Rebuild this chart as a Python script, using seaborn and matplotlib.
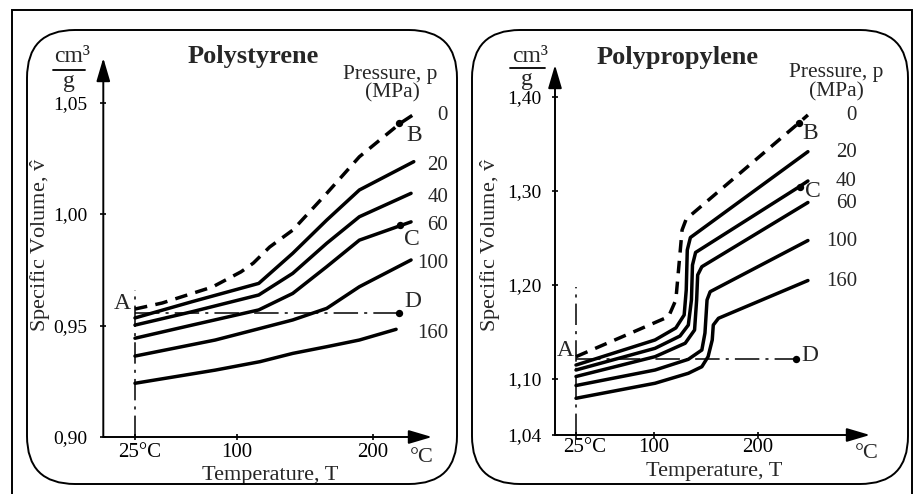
import matplotlib
matplotlib.use("Agg")
import numpy as np
import pandas as pd
import matplotlib.pyplot as plt
import matplotlib.patches as mpatches
import matplotlib.transforms as mtransforms
import seaborn as sns

# ---------------------------------------------------------------- data
pressures = [0, 20, 40, 60, 100, 160]          # MPa

# Polystyrene: temperature (deg C) and specific volume (cm3/g)
ps_T_0 = [25, 45, 82, 103, 112, 124, 141, 166, 190, 220, 233]
ps_v_0 = [0.9574, 0.9601, 0.9673, 0.9741, 0.9780, 0.9852, 0.9928, 1.0093, 1.0257, 1.0407, 1.0459]
ps_T_20 = [25, 67, 116, 141, 166, 190, 230]
ps_v_20 = [0.9534, 0.9607, 0.9689, 0.9824, 0.9973, 1.0108, 1.0235]
ps_T_40 = [25, 67, 116, 141, 166, 190, 228]
ps_v_40 = [0.9502, 0.9562, 0.9637, 0.9734, 0.9869, 0.9988, 1.0093]
ps_T_60 = [25, 67, 116, 141, 166, 190, 228]
ps_v_60 = [0.9443, 0.9502, 0.9570, 0.9644, 0.9764, 0.9883, 0.9965]
ps_T_100 = [25, 84, 117, 141, 166, 190, 228]
ps_v_100 = [0.9363, 0.9435, 0.9487, 0.9525, 0.9577, 0.9674, 0.9794]
ps_T_160 = [25, 84, 117, 141, 166, 190, 217]
ps_v_160 = [0.9241, 0.9300, 0.9338, 0.9375, 0.9405, 0.9435, 0.9483]

# Polypropylene
pp_T_0 = [25, 69, 114, 121, 124, 127, 131, 239, 248]
pp_v_0 = [1.1234, 1.1444, 1.1660, 1.1838, 1.2210, 1.2583, 1.2700, 1.3720, 1.3808]
pp_T_20 = [25, 101, 121, 129, 131, 132, 135, 248]
pp_v_20 = [1.1145, 1.1412, 1.1540, 1.1678, 1.1944, 1.2370, 1.2503, 1.3417]
pp_T_40 = [25, 101, 125, 133, 136, 137, 140, 240, 248]
pp_v_40 = [1.1092, 1.1323, 1.1454, 1.1571, 1.1838, 1.2210, 1.2344, 1.3046, 1.3105]
pp_T_60 = [25, 101, 130, 139, 141, 142, 146, 248]
pp_v_60 = [1.1023, 1.1234, 1.1377, 1.1518, 1.1838, 1.2104, 1.2192, 1.2876]
pp_T_100 = [25, 101, 133, 146, 149, 151, 154, 248]
pp_v_100 = [1.0927, 1.1092, 1.1206, 1.1305, 1.1486, 1.1838, 1.1926, 1.2471]
pp_T_160 = [25, 101, 133, 146, 152, 156, 157, 162, 248]
pp_v_160 = [1.0791, 1.0951, 1.1057, 1.1127, 1.1234, 1.1412, 1.1571, 1.1643, 1.2045]

# marked states
point_names = ["B", "C", "D"]
ps_point_T = [219, 220, 219]
ps_point_v = [1.0407, 0.9950, 0.9557]
pp_point_T = [239, 240, 237]
pp_point_v = [1.3720, 1.3046, 1.1206]
ps_A_T, ps_A_v = 25, 0.9557
pp_A_T, pp_A_v = 25, 1.1206
ps_vline_top = 0.966
pp_vline_top = 1.198

ps_yticks = [0.90, 0.95, 1.00, 1.05]
ps_yticklabels = ["0,90", "0,95", "1,00", "1,05"]
pp_yticks = [1.04, 1.10, 1.20, 1.30, 1.40]
pp_yticklabels = ["1,04", "1,10", "1,20", "1,30", "1,40"]
xticks = [25, 100, 200]
xticklabels = ["25°C", "100", "200"]

# ---------------------------------------------------------------- style
sns.set_theme(style="white")
plt.rcParams["font.family"] = ["Liberation Serif", "DejaVu Serif"]
plt.rcParams["mathtext.fontset"] = "custom"
plt.rcParams["mathtext.rm"] = "Liberation Serif"
plt.rcParams["mathtext.it"] = "Liberation Serif:italic"
plt.rcParams["mathtext.bf"] = "Liberation Serif:bold"

W, H = 915, 494
fig = plt.figure(figsize=(W / 100, H / 100), dpi=100)
fig.patch.set_facecolor("white")

PS_BOX = (103.3, 58, 432, 437)     # x0, ytop, x1, ybottom (pixels from top-left)
PP_BOX = (555, 65, 870, 435)


def rect(box):
    x0, yt, x1, yb = box
    return [x0 / W, 1 - yb / H, (x1 - x0) / W, (yb - yt) / H]


def ax_xy(box, x, y):
    x0, yt, x1, yb = box
    return (x - x0) / (x1 - x0), (yb - y) / (yb - yt)


def fig_xy(x, y):
    return x / W, 1 - y / H


ax1 = fig.add_axes(rect(PS_BOX))
ax2 = fig.add_axes(rect(PP_BOX))
ax1.set_xlim(1.7, 243.4)
ax1.set_ylim(0.90, 1.070)
ax2.set_xlim(4.8, 307.7)
ax2.set_ylim(1.04, 1.434)

ps_T = [ps_T_0, ps_T_20, ps_T_40, ps_T_60, ps_T_100, ps_T_160]
ps_v = [ps_v_0, ps_v_20, ps_v_40, ps_v_60, ps_v_100, ps_v_160]
pp_T = [pp_T_0, pp_T_20, pp_T_40, pp_T_60, pp_T_100, pp_T_160]
pp_v = [pp_v_0, pp_v_20, pp_v_40, pp_v_60, pp_v_100, pp_v_160]

palette = {p: "black" for p in pressures}
dashes = {p: ((3.6, 2.4) if p == 0 else "") for p in pressures}


def draw_panel(ax, box, Ts, vs, yticks, yticklabels, pT, pv, A_T, A_v, vtop,
               title, title_px, lab_x_px, lab_dy, point_offsets, A_offset,
               deg_off, xlab_px, ylab_px, pad_y, pad_x, lbl25_dx):
    df = pd.concat([pd.DataFrame({"T": t, "v": v, "p": p})
                    for p, t, v in zip(pressures, Ts, vs)], ignore_index=True)
    sns.lineplot(data=df, x="T", y="v", hue="p", style="p", palette=palette,
                 dashes=dashes, linewidth=2.5, legend=False, estimator=None,
                 sort=False, ax=ax)
    for s in ax.spines.values():
        s.set_visible(False)
    ax.set_xlabel("")
    ax.set_ylabel("")

    # axis arrows
    arrow = dict(arrowstyle="-|>,head_length=0.95,head_width=0.28", color="black",
                 lw=1.4, shrinkA=0, shrinkB=0, mutation_scale=15)
    ax.annotate("", xy=(1, 0), xytext=(0, 0), xycoords="axes fraction",
                textcoords="axes fraction", arrowprops=arrow)
    ax.annotate("", xy=(0, 1), xytext=(0, 0), xycoords="axes fraction",
                textcoords="axes fraction", arrowprops=arrow)

    # ticks
    ax.set_yticks(yticks)
    ax.set_yticklabels(yticklabels)
    ax.set_xticks(xticks)
    ax.set_xticklabels(xticklabels)
    ax.tick_params(axis="both", which="major", bottom=True, left=True,
                   direction="inout", length=5, width=1.2, color="black",
                   labelcolor="black")
    ax.tick_params(axis="y", labelsize=14, pad=pad_y)
    ax.tick_params(axis="x", labelsize=15, pad=pad_x)
    lab25 = ax.get_xticklabels()[0]
    lab25.set_transform(lab25.get_transform() +
                        mtransforms.ScaledTranslation(lbl25_dx / 100, 0, fig.dpi_scale_trans))

    # reference lines A-D and T = 25
    ax.plot([A_T, pT[2]], [A_v, pv[2]], color="black", lw=1.1,
            ls=(0, (16, 4, 2, 4)))
    y0 = ax.get_ylim()[0]
    ax.plot([A_T, A_T], [y0, vtop], color="black", lw=1.1,
            ls=(0, (14, 4, 2, 4)), clip_on=False)
    sns.scatterplot(x=pT, y=pv, color="black", s=28, edgecolor="black",
                    linewidth=0, ax=ax, zorder=5, clip_on=False)

    # point labels
    ax.annotate("A", xy=(A_T, A_v), xytext=A_offset, textcoords="offset pixels",
                ha="center", va="center", fontsize=17)
    for name, t, v, off in zip(point_names, pT, pv, point_offsets):
        ax.annotate(name, xy=(t, v), xytext=off, textcoords="offset pixels",
                    ha="center", va="center", fontsize=17)

    # pressure labels at curve ends
    lx, _ = ax_xy(box, lab_x_px, 0)
    for p, v in zip(pressures, vs):
        ax.annotate(str(p), xy=(lx, v[-1]), xycoords=ax.get_yaxis_transform(),
                    xytext=(0, lab_dy), textcoords="offset pixels",
                    ha="right", va="center", fontsize=15, annotation_clip=False)

    # title / axis titles
    tx, ty = ax_xy(box, *title_px)
    ax.set_title(title, x=tx, y=ty, pad=0, ha="center", va="center",
                 fontsize=19, fontweight="bold")
    ax.set_xlabel("Temperature, T", fontsize=16)
    ax.xaxis.label.set_va("center")
    ax.xaxis.set_label_coords(*ax_xy(box, *xlab_px))
    ax.set_ylabel("Specific Volume, $\\hat{\\mathrm{v}}$", fontsize=16)
    ax.yaxis.label.set_va("center")
    ax.yaxis.set_label_coords(*ax_xy(box, *ylab_px))
    ax.annotate("°C", xy=(1, 0), xycoords="axes fraction", xytext=deg_off,
                textcoords="offset pixels", ha="center", va="center", fontsize=16)


draw_panel(ax1, PS_BOX, ps_T, ps_v, ps_yticks, ps_yticklabels,
           ps_point_T, ps_point_v, ps_A_T, ps_A_v, ps_vline_top,
           "Polystyrene", (253, 57), 448, -4,
           [(15, -12), (12, -14), (14, 11)], (-13, 9),
           (-10, -20), (270, 475), (41, 245), 9, 2, 5)
draw_panel(ax2, PP_BOX, pp_T, pp_v, pp_yticks, pp_yticklabels,
           pp_point_T, pp_point_v, pp_A_T, pp_A_v, pp_vline_top,
           "Polypropylene", (678, 57), 857, -1,
           [(12, -10), (13, -5), (13, 4)], (-11, 9),
           (-3, -18), (714, 471), (491, 245), 7, 0, 9)

# pressure header and unit fractions
for (px, py), txt in [((390, 74), "Pressure, p"), ((392, 93), "(MPa)"),
                      ((836, 73), "Pressure, p"), ((836, 92), "(MPa)")]:
    fig.text(*fig_xy(px, py), txt, ha="center", va="center", fontsize=15.5)

for cx, cy, gx, gy, bx0, bx1, by in [(72, 57, 69, 82, 53, 85, 70),
                                      (530, 57, 527, 80, 510, 545, 68)]:
    fig.text(*fig_xy(cx, cy), "cm³", ha="center", va="center", fontsize=17)
    fig.text(*fig_xy(gx, gy), "g", ha="center", va="center", fontsize=17)
    fig.add_artist(plt.Line2D([bx0 / W, bx1 / W], [1 - by / H, 1 - by / H],
                              color="black", lw=1.3, transform=fig.transFigure))

# frames (pixel coordinates, origin bottom-left)
ident = mtransforms.IdentityTransform()
fig.add_artist(mpatches.Rectangle((12, -10), 900, 494, fill=False, ec="black",
                                  lw=1.4, transform=ident))
for x0, x1 in [(27, 457), (472, 908)]:
    fig.add_artist(mpatches.FancyBboxPatch((x0, H - 484), x1 - x0, 454,
                                           boxstyle="round,pad=0,rounding_size=48",
                                           fill=False, ec="black", lw=1.4,
                                           transform=ident))

fig.savefig("out.png", dpi=100, facecolor="white")
